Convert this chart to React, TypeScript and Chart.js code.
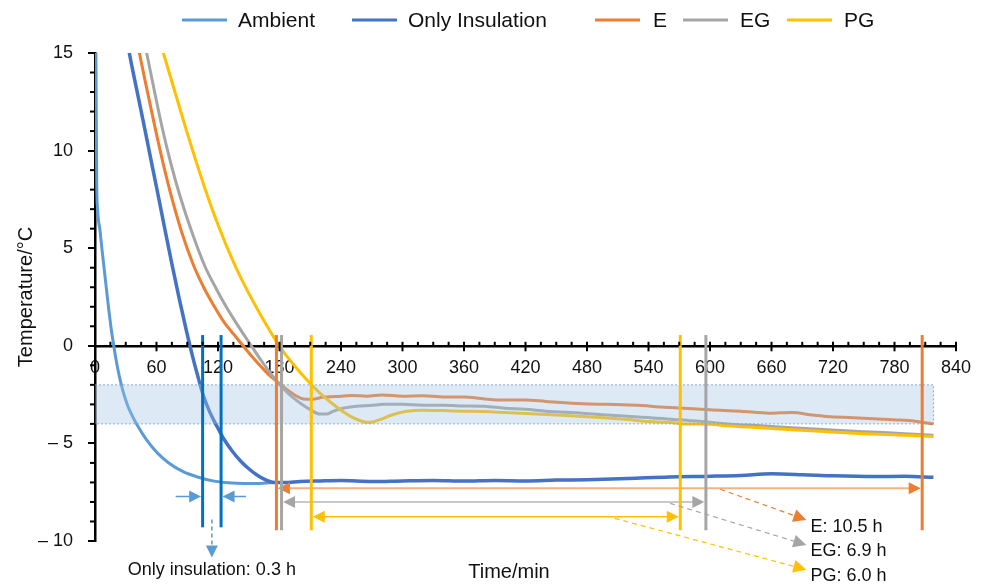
import { useEffect, useRef } from 'react';
import { Chart, registerables } from 'chart.js';

Chart.register(...registerables);

const FONT = '"Liberation Sans", Arial, Helvetica, sans-serif';

// ---- Measured temperature histories (time in min, temperature in °C) ----
const ambientTime = [0, 1, 1.7, 2.5, 4.9, 7, 10, 13, 16, 18, 20, 22.5, 25, 28, 32, 36, 41, 50, 61, 72, 86, 100, 115, 130, 145, 160, 175];
const ambientTemp = [22, 14, 8.3, 7.0, 5.9, 4.85, 3.45, 2.05, 0.8, 0.1, -0.55, -1.25, -1.85, -2.45, -3.08, -3.55, -4.05, -4.8, -5.5, -6.0, -6.45, -6.72, -6.92, -7.02, -7.06, -7.05, -7.0];

const insulationTime = [20, 25, 33.5, 41, 48.8, 55, 61.8, 68, 74.8, 82, 89.4, 95, 100, 106, 112, 118.7, 126, 134, 142, 150, 158, 166, 175, 185, 200, 220, 240, 270, 300, 330, 360, 390, 420, 450, 480, 520, 560, 600, 630, 660, 690, 720, 760, 790, 818];
const insulationTemp = [19.3, 17.7, 15, 13.05, 11.05, 9.42, 7.66, 6.02, 4.25, 2.45, 0.72, -0.5, -1.5, -2.6, -3.4, -4.1, -4.8, -5.4, -5.9, -6.3, -6.62, -6.86, -7.0, -7.0, -6.95, -6.92, -6.9, -6.95, -6.92, -6.9, -6.93, -6.9, -6.92, -6.88, -6.86, -6.8, -6.72, -6.68, -6.64, -6.56, -6.6, -6.66, -6.7, -6.68, -6.74];

const eTime = [30, 43.3, 50, 58.5, 66, 74.8, 85, 95.9, 106, 116, 126, 136, 146, 154, 162.6, 170, 180, 188, 196, 203, 212, 222, 235, 250, 265, 280, 300, 320, 340, 360, 380, 400, 420, 440, 476, 500, 530, 551, 574, 600, 630, 658, 680, 700, 714, 740, 779, 800, 818];
const eTemp = [18.6, 15, 13.3, 11.2, 9.45, 7.6, 5.75, 4.15, 3.0, 2.05, 1.2, 0.55, -0.1, -0.6, -1.1, -1.5, -1.93, -2.28, -2.56, -2.72, -2.74, -2.64, -2.6, -2.55, -2.58, -2.52, -2.58, -2.56, -2.62, -2.62, -2.72, -2.78, -2.78, -2.85, -2.97, -3.0, -3.05, -3.13, -3.2, -3.28, -3.35, -3.45, -3.42, -3.55, -3.62, -3.68, -3.79, -3.86, -4.0];

const egTime = [38, 50.4, 57, 65, 74, 83, 95, 107, 118, 128, 138, 148, 155, 162, 168, 174, 180, 187, 193, 201, 210, 219.5, 226, 232, 242, 255, 270, 281, 300, 320, 340, 360, 380, 400, 420, 440, 476, 500, 530, 574, 600, 617, 650, 680, 714, 750, 790, 818];
const egTemp = [18.3, 15, 13.3, 11.3, 9.35, 7.66, 5.75, 4.1, 2.95, 2.0, 1.15, 0.35, -0.2, -0.74, -1.18, -1.6, -1.98, -2.36, -2.64, -2.97, -3.27, -3.5, -3.5, -3.36, -3.2, -3.1, -3.05, -3.0, -3.0, -3.05, -3.05, -3.08, -3.1, -3.2, -3.25, -3.35, -3.45, -3.55, -3.65, -3.8, -3.92, -4.0, -4.1, -4.2, -4.3, -4.4, -4.5, -4.58];

const pgTime = [50, 66.7, 78, 89.4, 98, 107, 120, 135, 145, 155, 163, 170.7, 180, 190, 200, 211, 220, 232, 240, 249, 257, 265, 272, 280, 288, 296, 304, 320, 340, 360, 380, 400, 430, 450, 476, 500, 520, 541, 560, 574, 600, 617, 650, 680, 714, 750, 790, 818];
const pgTemp = [18.0, 15, 13.0, 11.0, 9.55, 8.1, 6.2, 4.3, 3.2, 2.2, 1.45, 0.76, -0.03, -0.72, -1.35, -1.98, -2.45, -2.98, -3.3, -3.6, -3.8, -3.92, -3.89, -3.74, -3.57, -3.44, -3.35, -3.3, -3.32, -3.35, -3.37, -3.42, -3.5, -3.55, -3.62, -3.7, -3.78, -3.88, -3.92, -4.0, -4.02, -4.1, -4.2, -4.3, -4.4, -4.5, -4.58, -4.65];

const seriesNames = ['Ambient', 'Only Insulation', 'E', 'EG', 'PG'];
const seriesColors = ['#5B9BD5', '#4472C4', '#ED7D31', '#A5A5A5', '#FFC000'];

// ---- Axes ----
const xTicks = [0, 60, 120, 180, 240, 300, 360, 420, 480, 540, 600, 660, 720, 780, 840];
const yTicks = [-10, -5, 0, 5, 10, 15];

// ---- Target temperature band (°C) and its end time (min) ----
const bandRange = [-4, -2];
const bandEnd = 818;

// ---- Time spent inside the band: start (min) and duration (h) ----
const spanNames = ['Only insulation', 'E', 'EG', 'PG'];
const spanStart = [105, 177, 182, 211];
const spanHours = [0.3, 10.5, 6.9, 6.0];
const spanArrowTemp = [-7.72, -7.3, -8.0, -8.76];

const pts = (t: number[], v: number[]) => t.map((x, i) => ({ x, y: v[i] }));

function head(ctx: CanvasRenderingContext2D, fx: number, fy: number, tx: number, ty: number, len: number, half: number, color: string) {
  const a = Math.atan2(ty - fy, tx - fx);
  const bx = tx - len * Math.cos(a);
  const by = ty - len * Math.sin(a);
  ctx.fillStyle = color;
  ctx.beginPath();
  ctx.moveTo(tx, ty);
  ctx.lineTo(bx + half * Math.sin(a), by - half * Math.cos(a));
  ctx.lineTo(bx - half * Math.sin(a), by + half * Math.cos(a));
  ctx.closePath();
  ctx.fill();
}

function line(ctx: CanvasRenderingContext2D, x1: number, y1: number, x2: number, y2: number, color: string, w: number, dash: number[] = []) {
  ctx.strokeStyle = color;
  ctx.lineWidth = w;
  ctx.setLineDash(dash);
  ctx.beginPath();
  ctx.moveTo(x1, y1);
  ctx.lineTo(x2, y2);
  ctx.stroke();
  ctx.setLineDash([]);
}

const spanColors = ['#0070C0', '#ED7D31', '#A5A5A5', '#FFC000'];
const spanLineColors = ['#5B9BD5', '#F4B183', '#C9C9C9', '#FFC000'];

const overlay = {
  id: 'overlay',
  afterDatasetsDraw(chart: any) {
    const { ctx } = chart;
    const xs = chart.scales.x;
    const ys = chart.scales.y;
    const X = (v: number) => xs.getPixelForValue(v);
    const Y = (v: number) => ys.getPixelForValue(v);
    ctx.save();

    // translucent band over the curves
    const bx0 = X(0), bx1 = X(bandEnd), by0 = Y(bandRange[1]), by1 = Y(bandRange[0]);
    ctx.fillStyle = 'rgba(157,195,230,0.35)';
    ctx.fillRect(bx0, by0, bx1 - bx0, by1 - by0);
    ctx.strokeStyle = 'rgba(120,160,205,0.85)';
    ctx.lineWidth = 1;
    ctx.setLineDash([2, 2]);
    ctx.beginPath();
    ctx.moveTo(bx0, by0);
    ctx.lineTo(bx1, by0);
    ctx.lineTo(bx1, by1);
    ctx.lineTo(bx0, by1);
    ctx.stroke();
    ctx.setLineDash([]);

    const top = Y(0.55);
    spanStart.forEach((s, i) => {
      const e = s + spanHours[i] * 60;
      const x0 = X(s), x1 = X(e);
      const bottom = Y(i === 0 ? -9.3 : -9.45);
      line(ctx, x0, top, x0, bottom, spanColors[i], 3);
      line(ctx, x1, top, x1, bottom, spanColors[i], 3);
      const ay = Y(spanArrowTemp[i]);
      if (i === 0) {
        line(ctx, x0 - 27, ay, x0 - 8, ay, spanLineColors[0], 1.5);
        head(ctx, x0 - 27, ay, x0 - 1.5, ay, 12, 6, spanLineColors[0]);
        line(ctx, x1 + 25, ay, x1 + 8, ay, spanLineColors[0], 1.5);
        head(ctx, x1 + 25, ay, x1 + 1.5, ay, 12, 6, spanLineColors[0]);
        const mx = X((s + e) / 2);
        line(ctx, mx, Y(-8.9), mx, Y(-10.2), spanLineColors[0], 1.5, [4, 3]);
        head(ctx, mx, Y(-8.9), mx, Y(-10.85), 12, 6, spanLineColors[0]);
        ctx.fillStyle = '#111';
        ctx.font = `18px ${FONT}`;
        ctx.textAlign = 'center';
        ctx.textBaseline = 'middle';
        ctx.fillText(`${spanNames[0]}: ${spanHours[0].toFixed(1)} h`, mx, Y(-11.5));
      } else {
        line(ctx, x0 + 8, ay, x1 - 8, ay, spanLineColors[i], i === 3 ? 1.5 : 2);
        head(ctx, x1, ay, x0 + 1.5, ay, 12, 6, spanColors[i]);
        head(ctx, x0, ay, x1 - 1.5, ay, 12, 6, spanColors[i]);
      }
    });

    // dashed call-outs to the duration labels
    const calloutFrom = [[0, 0], [610, -7.35], [561, -8.07], [507, -8.84]];
    const calloutTip = [[0, 0], [694, -8.92], [694, -10.2], [694, -11.47]];
    const labelTemp = [0, -9.3, -10.52, -11.78];
    for (let i = 1; i < 4; i++) {
      const fx = X(calloutFrom[i][0]), fy = Y(calloutFrom[i][1]);
      const tx = X(calloutTip[i][0]), ty = Y(calloutTip[i][1]);
      const a = Math.atan2(ty - fy, tx - fx);
      line(ctx, fx, fy, tx - 10 * Math.cos(a), ty - 10 * Math.sin(a), spanColors[i], 1.2, [5, 4]);
      head(ctx, fx, fy, tx, ty, 13, 6.5, spanColors[i]);
      ctx.fillStyle = '#111';
      ctx.font = `18px ${FONT}`;
      ctx.textAlign = 'left';
      ctx.textBaseline = 'middle';
      ctx.fillText(`${spanNames[i]}: ${spanHours[i].toFixed(1)} h`, X(698), Y(labelTemp[i]));
    }
    ctx.restore();
  },
  afterDraw(chart: any) {
    const { ctx } = chart;
    const xs = chart.scales.x;
    const ys = chart.scales.y;
    const y0 = ys.getPixelForValue(0);
    const left = chart.chartArea.left;
    ctx.save();
    ctx.strokeStyle = '#000';
    ctx.lineWidth = 2;
    // x ticks: major cross the axis, minor point up
    for (let t = 0; t <= 840; t += 15) {
      const x = xs.getPixelForValue(t);
      const major = t % 60 === 0;
      ctx.beginPath();
      ctx.moveTo(x, y0 - 4);
      ctx.lineTo(x, major ? y0 + 5.5 : y0);
      ctx.stroke();
    }
    // y minor ticks
    for (let v = -10; v <= 15; v += 1) {
      if (v % 5 === 0) continue;
      const y = ys.getPixelForValue(v);
      ctx.beginPath();
      ctx.moveTo(left - 5, y);
      ctx.lineTo(left, y);
      ctx.stroke();
    }

    // legend
    const legendLineX = [182, 352, 595, 683, 787];
    const legendTextX = [238, 408, 653, 740, 844];
    const ly = 20;
    ctx.font = `21px ${FONT}`;
    ctx.textAlign = 'left';
    ctx.textBaseline = 'middle';
    seriesNames.forEach((n, i) => {
      ctx.strokeStyle = seriesColors[i];
      ctx.lineWidth = 3;
      ctx.beginPath();
      ctx.moveTo(legendLineX[i], ly);
      ctx.lineTo(legendLineX[i] + 45, ly);
      ctx.stroke();
      ctx.fillStyle = '#111';
      ctx.fillText(n, legendTextX[i], ly + 1);
    });

    // x-axis title
    ctx.font = `20px ${FONT}`;
    ctx.textAlign = 'center';
    ctx.fillText('Time/min', 509, 572);
    ctx.restore();
  },
};

export default function App() {
  const ref = useRef<HTMLCanvasElement>(null);

  useEffect(() => {
    const canvas = ref.current;
    if (!canvas) return;
    const series = [
      pts(ambientTime, ambientTemp),
      pts(insulationTime, insulationTemp),
      pts(eTime, eTemp),
      pts(egTime, egTemp),
      pts(pgTime, pgTemp),
    ];
    const chart = new Chart(canvas, {
      type: 'line',
      data: {
        datasets: series.map((d, i) => ({
          label: seriesNames[i],
          data: d,
          borderColor: seriesColors[i],
          backgroundColor: seriesColors[i],
          borderWidth: i === 1 ? 3.5 : 3,
          pointRadius: 0,
          fill: false,
          cubicInterpolationMode: 'monotone' as const,
          order: 5 - i,
        })),
      },
      options: {
        responsive: false,
        animation: false,
        layout: { padding: { top: 53, right: 33, bottom: 45, left: 0 } },
        plugins: { legend: { display: false }, tooltip: { enabled: false } },
        scales: {
          x: {
            type: 'linear',
            position: { y: 0 } as any,
            min: 0,
            max: 840,
            z: 1,
            afterBuildTicks: (s: any) => {
              s.ticks = xTicks.map((v) => ({ value: v }));
            },
            ticks: {
              autoSkip: false,
              maxRotation: 0,
              padding: 11,
              color: '#111',
              font: { family: FONT, size: 18 },
            },
            grid: { drawOnChartArea: false, drawTicks: false },
            border: { display: true, color: '#000', width: 2.5 },
          },
          y: {
            type: 'linear',
            position: 'left',
            min: -10,
            max: 15,
            z: 1,
            afterBuildTicks: (s: any) => {
              s.ticks = yTicks.map((v) => ({ value: v }));
            },
            afterFit: (s: any) => {
              s.width = 95;
            },
            ticks: {
              padding: 15,
              color: '#111',
              font: { family: FONT, size: 18 },
              callback: (v: any) => (Number(v) < 0 ? `\u2013 ${Math.abs(Number(v))}` : String(v)),
            },
            grid: { drawOnChartArea: false, drawTicks: true, tickLength: 7, color: '#000', lineWidth: 2 },
            border: { display: true, color: '#000', width: 2.5 },
            title: {
              display: true,
              text: 'Temperature/°C',
              color: '#111',
              font: { family: FONT, size: 20 },
              padding: { top: 14, bottom: 0 },
            },
          },
        },
      },
      plugins: [overlay],
    });
    return () => chart.destroy();
  }, []);

  return (
    <div style={{ position: 'absolute', left: 0, top: 0, width: 989, height: 586, background: '#fff' }}>
      <canvas ref={ref} width={989} height={586} style={{ display: 'block', width: 989, height: 586 }} />
    </div>
  );
}
